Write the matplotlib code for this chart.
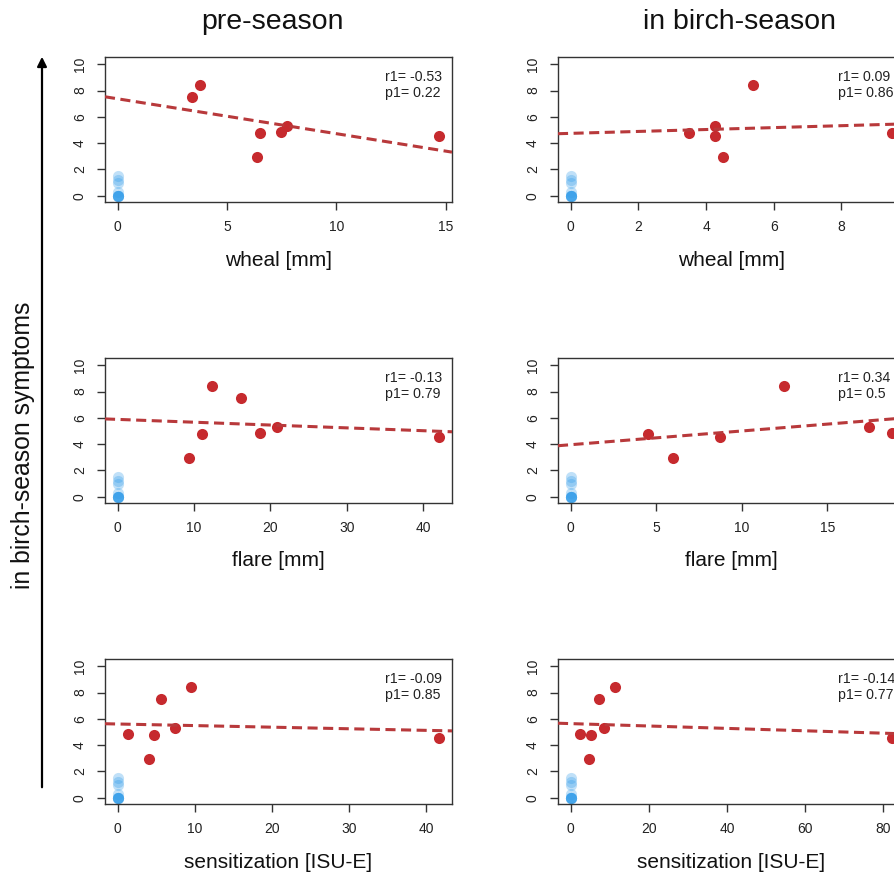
import numpy as np
import matplotlib
matplotlib.use("Agg")
import matplotlib.pyplot as plt
from matplotlib.patches import FancyArrowPatch

plt.rcParams['font.family'] = ['Liberation Sans', 'DejaVu Sans']

# symptom scores of the sensitized (red) patients, per panel
symptoms_7 = [7.52, 8.41, 2.93, 4.75, 4.85, 5.30, 4.57]

wheal_pre = [3.39, 3.76, 6.37, 6.49, 7.48, 7.76, 14.7]
wheal_pre_y = symptoms_7

wheal_in = [3.50, 4.25, 4.25, 4.51, 5.38, 9.50]
wheal_in_y = [4.75, 5.30, 4.55, 2.93, 8.41, 4.80]

flare_pre = [9.26, 11.0, 12.3, 16.1, 18.6, 20.8, 42.1]
flare_pre_y = [2.93, 4.77, 8.41, 7.53, 4.82, 5.33, 4.57]

flare_in = [4.54, 6.0, 8.75, 12.5, 17.47, 18.8]
flare_in_y = [4.77, 2.93, 4.57, 8.41, 5.33, 4.82]

sens_pre = [1.34, 4.0, 4.72, 5.63, 7.36, 9.52, 41.7]
sens_pre_y = [4.85, 2.93, 4.75, 7.53, 5.30, 8.41, 4.57]

sens_in = [2.4, 4.7, 5.04, 7.26, 8.38, 11.3, 82.3]
sens_in_y = [4.85, 2.93, 4.75, 7.53, 5.30, 8.41, 4.57]

# non-sensitized (blue) patients, all at x = 0
blue_y = [0, 0, 0, 0, 0, 0, 0.25, 1.0, 1.2, 1.5]

r_labels = ["r1= -0.53", "r1= 0.09", "r1= -0.13", "r1= 0.34", "r1= -0.09", "r1= -0.14"]
p_labels = ["p1= 0.22", "p1= 0.86", "p1= 0.79", "p1= 0.5", "p1= 0.85", "p1= 0.77"]

xlabels = ["wheal [mm]", "wheal [mm]", "flare [mm]", "flare [mm]",
           "sensitization [ISU-E]", "sensitization [ISU-E]"]
col_titles = ["pre-season", "in birch-season"]
ylabel = "in birch-season symptoms"

panels = [(wheal_pre, wheal_pre_y, 5), (wheal_in, wheal_in_y, 2),
          (flare_pre, flare_pre_y, 10), (flare_in, flare_in_y, 5),
          (sens_pre, sens_pre_y, 10), (sens_in, sens_in_y, 20)]

W, H = 895, 872
fig = plt.figure(figsize=(W / 100, H / 100), dpi=100)

lefts = [105, 558]
tops = [57, 358, 659]
aw, ah = 347, 145

red = '#C62A2E'
line_red = '#B8393B'
blue = '#2F9BEA'
grey = '#333333'

for i, (xs, ys, step) in enumerate(panels):
    row, col = divmod(i, 2)
    ax = fig.add_axes([lefts[col] / W, 1 - (tops[row] + ah) / H, aw / W, ah / H])

    xmax = max(xs)
    pad = 0.04 * xmax
    xlim = (-pad, xmax + pad)

    ax.plot(np.zeros(len(blue_y)), blue_y, 'o', color=blue, alpha=0.3,
            markersize=8, markeredgewidth=0, zorder=2)
    ax.plot(xs, ys, 'o', color=red, markersize=8, markeredgewidth=0, zorder=3)

    slope, icpt = np.polyfit(xs, ys, 1)
    lx = np.array(xlim)
    ax.plot(lx, icpt + slope * lx, color=line_red, lw=2.2, dashes=(3.3, 1.8), zorder=4)

    ax.set_xlim(xlim)
    ax.set_ylim(-0.48, 10.55)
    ax.set_xticks(np.arange(0, xmax + pad, step))
    ax.set_yticks([0, 2, 4, 6, 8, 10])
    for lab in ax.get_yticklabels():
        lab.set_rotation(90)
        lab.set_va('center')
    ax.tick_params(axis='both', length=6, width=1.0, color=grey, labelsize=10,
                   labelcolor='#222222', pad=7)
    for sp in ax.spines.values():
        sp.set_color(grey)
        sp.set_linewidth(1.0)

    ax.set_xlabel(xlabels[i], fontsize=15, color='#111111')
    ax.xaxis.set_label_coords(0.5, -58 / ah)
    ax.xaxis.label.set_va('center')

    ax.text(0.807, 0.864, r_labels[i], transform=ax.transAxes, fontsize=10.2,
            va='center', ha='left', color='#222222')
    ax.text(0.807, 0.75, p_labels[i], transform=ax.transAxes, fontsize=10.2,
            va='center', ha='left', color='#222222')

fig.text(272 / W, 1 - 22 / H, col_titles[0], fontsize=20.5, ha='center', va='center', color='#111111')
fig.text(740 / W, 1 - 22 / H, col_titles[1], fontsize=20.5, ha='center', va='center', color='#111111')

fig.text(23 / W, 1 - 445 / H, ylabel, fontsize=17.8, rotation=90, ha='center', va='center',
         color='#111111')

arrow = FancyArrowPatch((42 / W, 1 - 790 / H), (42 / W, 1 - 54 / H), transform=fig.transFigure,
                        arrowstyle='-|>', mutation_scale=14, lw=1.6, color='black')
fig.add_artist(arrow)

plt.savefig('out.png', dpi=100)
